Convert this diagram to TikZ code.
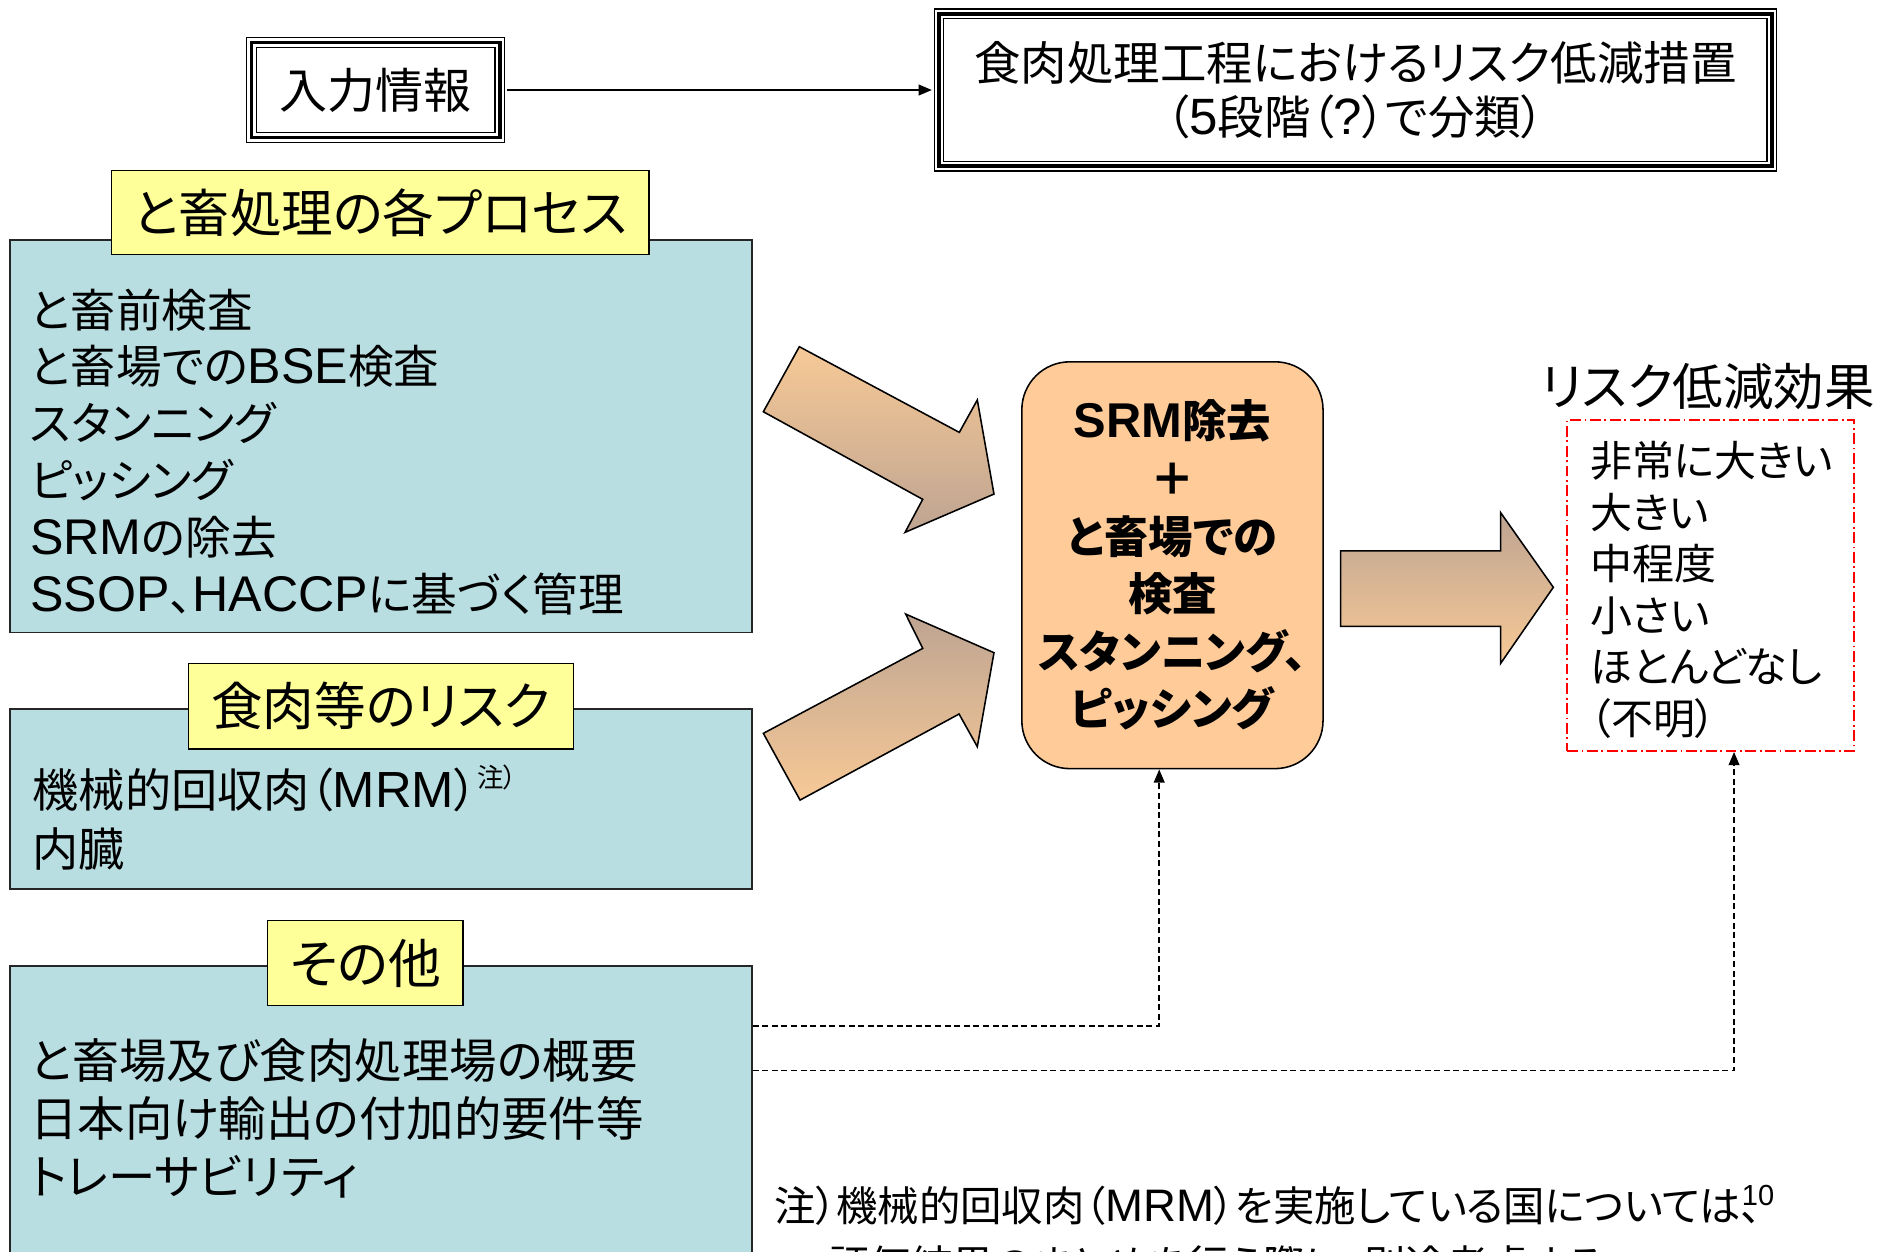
\documentclass[tikz,border=0pt]{standalone}
\usepackage{fontspec}
\setmainfont{Noto Sans CJK JP}[RawFeature=+palt]
\newfontfamily\lat{Liberation Sans}[Scale=1.1]
\usetikzlibrary{arrows.meta}
\definecolor{boxblue}{RGB}{185,222,226}
\definecolor{tagyellow}{RGB}{255,255,153}
\definecolor{coreorange}{RGB}{255,204,153}
\definecolor{arrowtan}{RGB}{190,164,146}
\definecolor{arrowpeach}{RGB}{247,201,150}
\tikzset{
  frame3/.style={preaction={draw,line width=9pt},preaction={draw=white,line width=7pt},draw,line width=3pt,inner sep=0pt},
  panel/.style={draw=black!85,line width=1.3pt,fill=boxblue,inner sep=0pt},
  tag/.style={draw,line width=1.3pt,fill=tagyellow,inner sep=0pt,font=\fontsize{43}{50}\selectfont},
  items/.style={align=left,inner sep=0pt,anchor=west},
  link/.style={->,dash pattern=on 5pt off 3pt,line width=1.3pt},
  fat/.style={draw,line width=1.3pt,line join=miter},
}
\begin{document}
\begin{tikzpicture}[x=1pt,y=-1pt,>={Triangle[length=11pt,width=9pt]}]
   \useasboundingbox (0,0) rectangle (1568.3,1042.5);
   \node[frame3,minimum width=207pt,minimum height=79pt,font=\fontsize{40}{47}\selectfont] (in) at (313,75) {入力情報};
   \node[frame3,minimum width=694pt,minimum height=127pt,align=center,font=\fontsize{38.7}{45}\selectfont] (goal) at (1129.5,75) {食肉処理工程におけるリスク低減措置\\（{\lat 5}段階（{\lat ?}）で分類）};
   \draw[->,line width=1.3pt,shorten <=4.5pt,shorten >=4.5pt] (in.east) -- (goal.west);

   \node[panel,minimum width=618pt,minimum height=327pt] (proc) at (317.5,363.5) {};
   \node[tag,minimum width=448pt,minimum height=70pt] (proct) at (317,177) {と畜処理の各プロセス};
   \node[items,font=\fontsize{38}{47.4}\selectfont] (procl) at (25,376.5) {と畜前検査\\と畜場での{\lat BSE}検査\\スタンニング\\ピッシング\\{\lat SRM}の除去\\{\lat SSOP}、{\lat HACCP}に基づく管理};

   \node[panel,minimum width=618pt,minimum height=150pt] (risk) at (317.5,666) {};
   \node[tag,minimum width=321pt,minimum height=71pt] (riskt) at (317.5,588.5) {食肉等のリスク};
   \node[items,font=\fontsize{38.5}{49}\selectfont] (riskl) at (27,681.5) {機械的回収肉（{\lat MRM}）\raisebox{0.8ex}{\fontsize{22}{22}\selectfont 注）}\\内臓};

   \node[panel,minimum width=618pt,minimum height=255pt] (other) at (317.5,932.5) {};
   \node[tag,minimum width=163pt,minimum height=71pt,font=\fontsize{44}{50}\selectfont] (othert) at (304.5,802.5) {その他};
   \node[items,font=\fontsize{39.5}{48}\selectfont] (otherl) at (25,932) {と畜場及び食肉処理場の概要\\日本向け輸出の付加的要件等\\トレーサビリティ};

   \node[draw,line width=1.3pt,fill=coreorange,rounded corners=40pt,minimum width=251pt,minimum height=339pt,align=center,font=\bfseries\fontsize{37}{48}\selectfont] (core) at (977,471) {{\lat SRM}除去\\＋\\と畜場での\\検査\\スタンニング、\\ピッシング};

   \shade[fat,top color=arrowpeach,bottom color=arrowtan] (666.1,288.9) -- (799.4,360.3) -- (814.4,333.3) -- (828.3,411.7) -- (754.2,443.6) -- (768.9,416.1) -- (636.1,343.1) -- cycle;
   \shade[fat,top color=arrowtan,bottom color=arrowpeach] (666.7,666.7) -- (799.2,595) -- (814.4,622.2) -- (828.3,543.9) -- (754.7,511.7) -- (768.9,540.3) -- (636.1,611.1) -- cycle;
   \shade[fat,top color=arrowtan,bottom color=arrowpeach] (1117.2,459) -- (1250.5,459) -- (1250.5,427.2) -- (1294.4,489.4) -- (1250.5,552.8) -- (1250.5,522) -- (1117.2,522) -- cycle;

   \node[font=\fontsize{42}{48}\selectfont] (efft) at (1423,322) {リスク低減効果};
   \node[draw=red,line width=1.3pt,dash pattern=on 9pt off 3pt on 1.5pt off 3pt,minimum width=239pt,minimum height=276pt] (eff) at (1425.5,488) {};
   \node[items,font=\fontsize{35}{43}\selectfont] (effl) at (1325,491.5) {非常に大きい\\大きい\\中程度\\小さい\\ほとんどなし\\（不明）};

   \draw[link] ([yshift=77.5pt]other.east) -| ([xshift=-11pt]core.south);
   \draw[link] ([yshift=40.5pt]other.east) -| ([xshift=19.5pt]eff.south);

   \node[anchor=west,inner sep=0pt,font=\fontsize{34.5}{40}\selectfont] (note1) at (645,1005) {注）機械的回収肉（{\lat MRM}）を実施している国については、};
   \node[anchor=west,inner sep=0pt,font=\fontsize{34.5}{40}\selectfont] (note2) at (690,1054) {評価結果のまとめを行う際に、別途考慮する。};
   \node[font=\fontsize{22}{22}\selectfont] (page) at (1465,996) {{\lat 10}};
\end{tikzpicture}
\end{document}
